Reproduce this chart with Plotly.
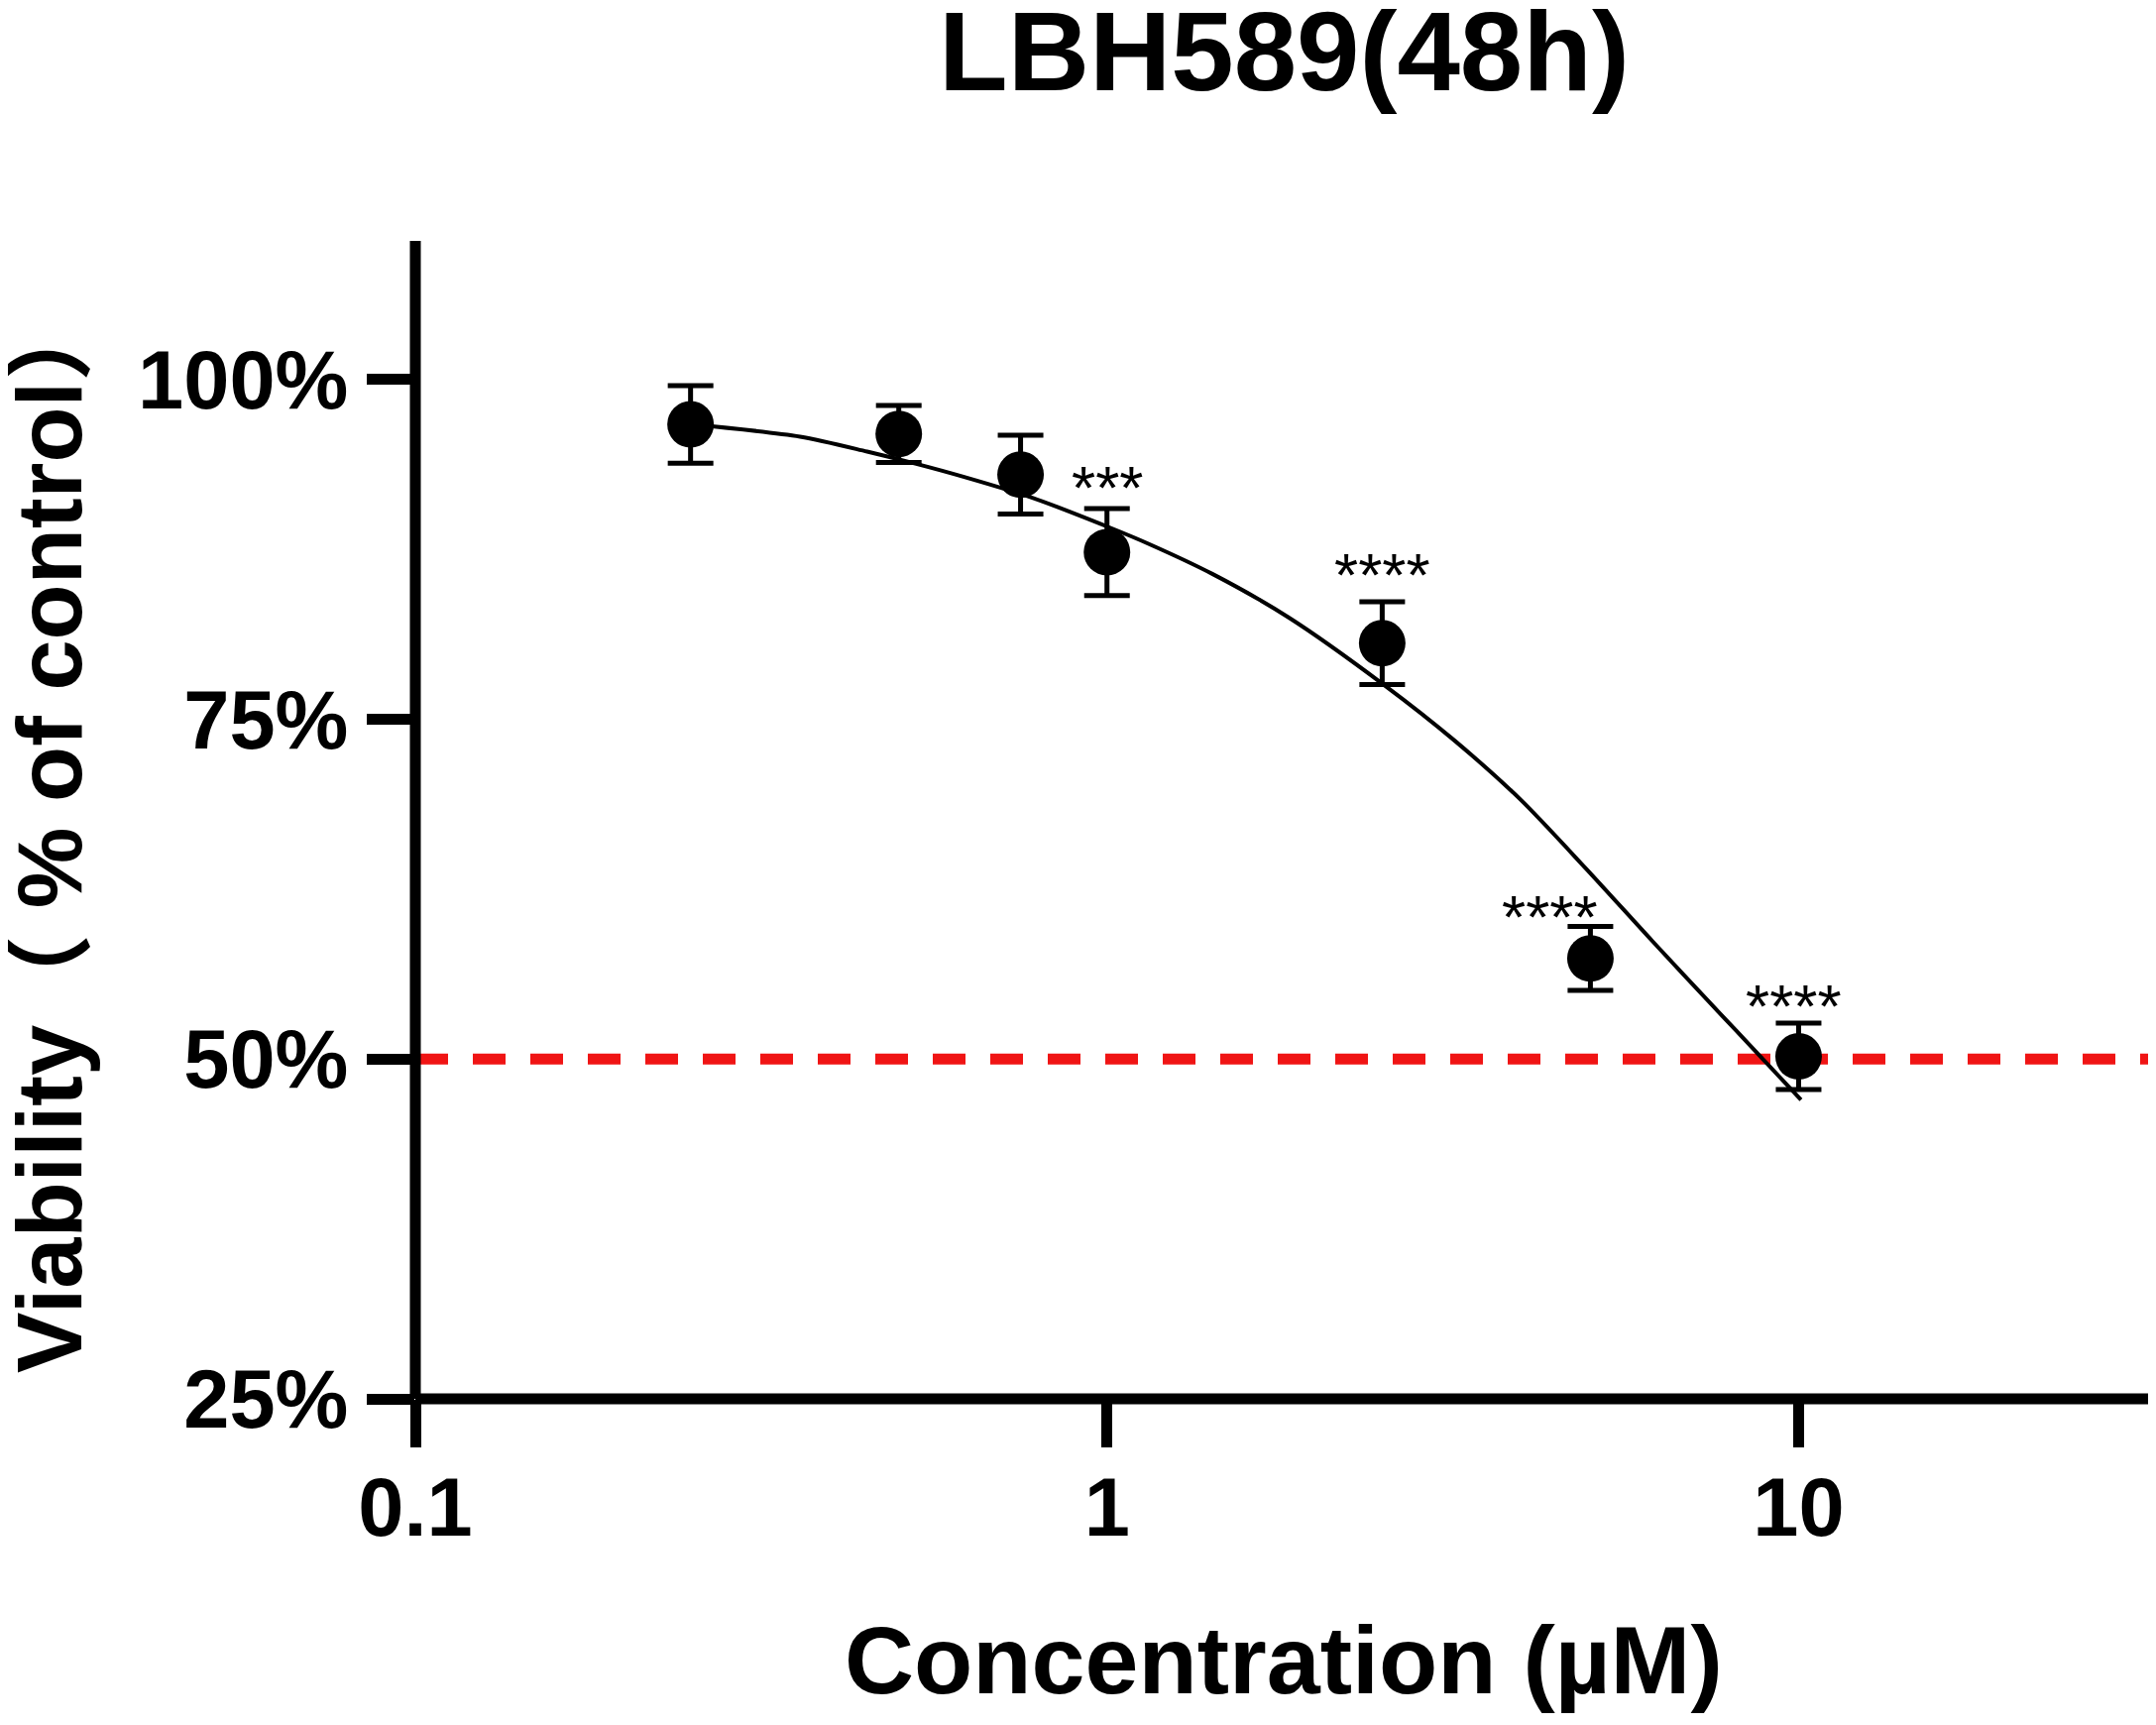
import numpy as np
import plotly.graph_objects as go

# measured points: concentration (µM), viability (% of control), SEM
conc = [0.25, 0.5, 0.75, 1, 2.5, 5, 10]
viability = [96.7, 96.0, 93.0, 87.3, 80.6, 57.4, 50.2]
sem = [2.85, 2.1, 2.9, 3.2, 3.05, 2.35, 2.45]
stars = ["", "", "", "***", "****", "****", "****"]

# fitted dose-response curve
fit_conc = [0.25, 0.36, 0.45, 0.53, 0.62, 0.78, 1.01, 1.15, 1.42, 1.83,
            2.52, 3.17, 3.96, 4.93, 6.14, 7.65, 8.73, 10.08]
fit_viability = [96.7, 95.8, 94.7, 93.8, 92.85, 91.3, 89.1, 87.9, 85.7, 82.5,
                 77.5, 73.5, 69.1, 64.0, 58.7, 53.5, 50.4, 47.0]

ic50_line = 50

x_ticks = [0.1, 1, 10]
x_ticktext = ["0.1", "1", "10"]
y_ticks = [25, 50, 75, 100]
y_ticktext = ["25%", "50%", "75%", "100%"]

FONT = "Liberation Sans, Arial, Noto Sans CJK SC, sans-serif"
AXIS_W = 11

# star label nudges (px) so they sit like in the original
star_dx = [0, 0, 0, 0, 0, -41, -5]
star_dy = [0, 0, 0, 22, 27, 10, 17]

fig = go.Figure()

fig.add_trace(
    go.Scatter(
        x=fit_conc,
        y=fit_viability,
        mode="lines",
        line=dict(color="black", width=4, shape="spline", smoothing=0.8),
        showlegend=False,
        hoverinfo="skip",
    )
)

fig.add_trace(
    go.Scatter(
        x=conc,
        y=viability,
        mode="markers",
        marker=dict(color="black", size=47, line=dict(width=0)),
        error_y=dict(type="data", array=sem, visible=True,
                     color="black", thickness=5, width=23),
        showlegend=False,
    )
)

# 50% reference line
fig.add_shape(
    type="line", xref="paper", x0=0, x1=1, yref="y", y0=ic50_line, y1=ic50_line,
    line=dict(color="#f01414", width=11, dash="33px,25px"), layer="below",
)

# axis lines drawn centred on the plot edges
fig.add_shape(type="line", xref="paper", yref="paper", x0=0, x1=0, y0=0, y1=1,
              line=dict(color="black", width=AXIS_W))
fig.add_shape(type="line", xref="paper", yref="paper", x0=0, x1=1, y0=0, y1=0,
              line=dict(color="black", width=AXIS_W))

for c, v, s, label, dx, dy in zip(conc, viability, sem, stars, star_dx, star_dy):
    if not label:
        continue
    fig.add_annotation(
        x=np.log10(c), y=v + s, text=label, showarrow=False,
        xanchor="center", yanchor="middle", xshift=dx, yshift=dy,
        font=dict(family=FONT, size=62, color="black"),
    )

fig.add_annotation(
    text="LBH589(48h)", xref="paper", yref="paper", x=0.5, y=1,
    xanchor="center", yanchor="middle", yshift=192, showarrow=False,
    font=dict(family=FONT, size=114, color="black", weight="bold"),
)
fig.add_annotation(
    text="Concentration (µM)", xref="paper", yref="paper", x=0.5, y=0,
    xanchor="center", yanchor="middle", yshift=-263, showarrow=False,
    font=dict(family=FONT, size=97, color="black", weight="bold"),
)
fig.add_annotation(
    text="Viability（ % of control）", xref="paper", yref="paper", x=0, y=0.4897,
    xanchor="center", yanchor="middle", xshift=-369, textangle=-90,
    showarrow=False,
    font=dict(family=FONT, size=92, color="black", weight="bold"),
)

# the page body adds an 8px offset, so the figure is 8px smaller than the window
fig.update_layout(
    width=2167,
    height=1732,
    margin=dict(l=411, r=4, t=235, b=329),
    paper_bgcolor="white",
    plot_bgcolor="white",
    showlegend=False,
    xaxis=dict(
        type="log", range=[-1, 1.511],
        tickvals=x_ticks, ticktext=x_ticktext,
        ticks="outside", ticklen=48, tickwidth=AXIS_W, tickcolor="black",
        ticklabelstandoff=-11,
        showline=False, showgrid=False, zeroline=False,
        tickfont=dict(family=FONT, size=83, color="black", weight="bold"),
    ),
    yaxis=dict(
        range=[25, 110.2],
        tickvals=y_ticks, ticktext=y_ticktext,
        ticks="outside", ticklen=48, tickwidth=AXIS_W, tickcolor="black",
        ticklabelstandoff=2,
        showline=False, showgrid=False, zeroline=False,
        tickfont=dict(family=FONT, size=83, color="black", weight="bold"),
    ),
)

fig.write_html("out.html")
